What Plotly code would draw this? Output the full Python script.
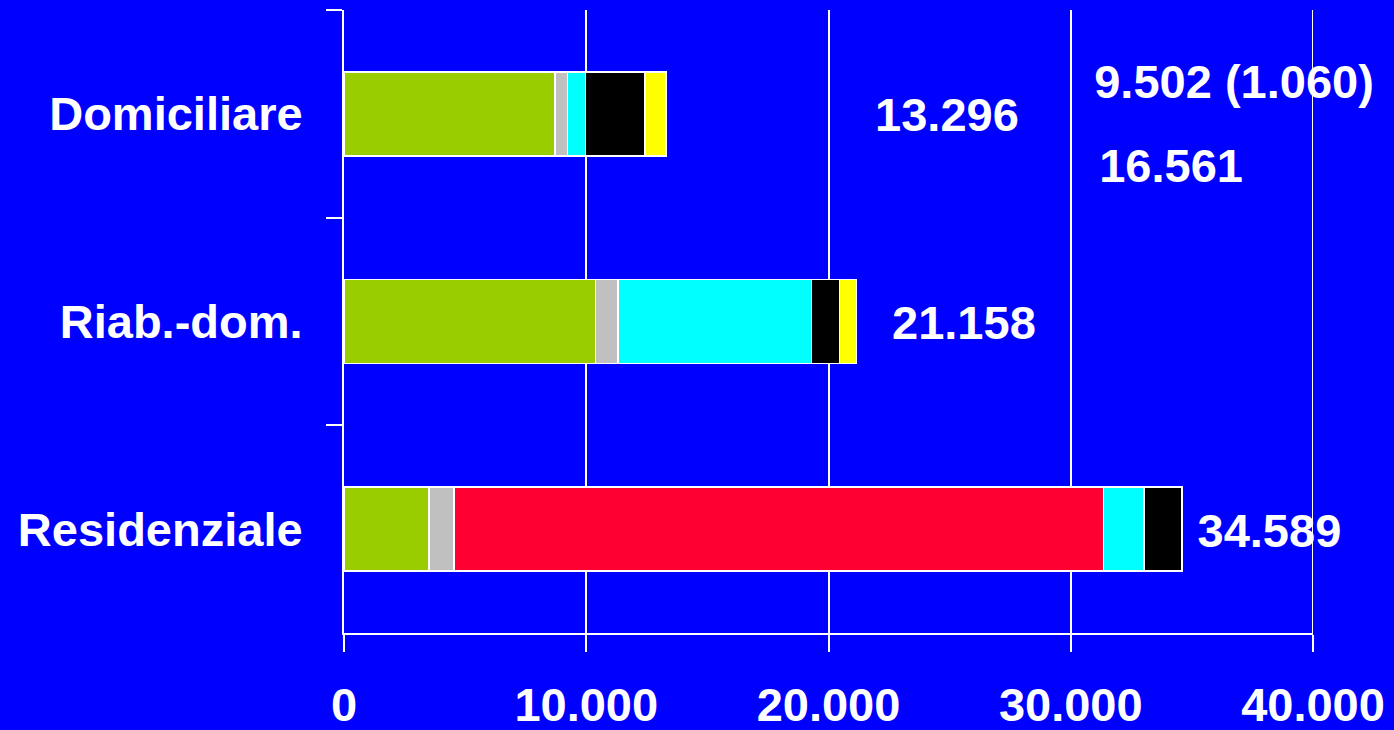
import plotly.graph_objects as go

# Categories, top to bottom
categories = ["Domiciliare", "Riab.-dom.", "Residenziale"]

# Stacked components (None = component absent for that category)
green_vals = [8720, 10375, 3506]
gray_vals = [515, 927, 1027]
red_vals = [None, None, 26820]
cyan_vals = [740, 7990, 1670]
black_vals = [2455, 1154, 1566]
yellow_vals = [866, 712, None]

# Totals printed beside each bar
total_labels = ["13.296", "21.158", "34.589"]
total_values = [13296, 21158, 34589]

# Extra notes printed in the upper-right area
note_texts = ["9.502 (1.060)", "16.561"]

x_ticks = [0, 10000, 20000, 30000, 40000]
x_tick_labels = ["0", "10.000", "20.000", "30.000", "40.000"]

series = [
    ("Voce 1", green_vals, "#9ACD00"),
    ("Voce 2", gray_vals, "#C0C0C0"),
    ("Voce 3", red_vals, "#FF0033"),
    ("Voce 4", cyan_vals, "#00FFFF"),
    ("Voce 5", black_vals, "#000000"),
    ("Voce 6", yellow_vals, "#FFFF00"),
]

FONT = "Liberation Sans, Arial, sans-serif"
BLUE = "#0000FF"
TXT = dict(family=FONT, size=47, color="white", weight="bold")

fig = go.Figure()
for name, vals, color in series:
    fig.add_trace(go.Bar(
        y=categories, x=vals, name=name, orientation="h",
        marker=dict(color=color, line=dict(color="white", width=1.5)),
        showlegend=False, hoverinfo="x+name",
    ))

# Text layer on a numeric overlay axis aligned with the category slots
# (slot i is centred at y = i, range reversed so the first category is on top)
total_x = [24890, 25590, 38200]
total_y = [i + 0.027 for i in range(len(categories))]
fig.add_trace(go.Scatter(
    x=total_x, y=total_y, text=total_labels, mode="text",
    textposition="middle center", textfont=TXT, yaxis="y2",
    showlegend=False, hoverinfo="skip", cliponaxis=False,
))

note_x = [36740, 34140]
note_y = [-0.133, 0.272]
fig.add_trace(go.Scatter(
    x=note_x, y=note_y, text=note_texts, mode="text",
    textposition="middle center", textfont=TXT, yaxis="y2",
    showlegend=False, hoverinfo="skip", cliponaxis=False,
))

# Closing gridline at the right end of the value axis, drawn over the text
fig.add_shape(
    type="line", xref="x", yref="paper",
    x0=x_ticks[-1], x1=x_ticks[-1], y0=0, y1=1,
    line=dict(color="white", width=2), layer="above",
)

fig.update_layout(
    width=1394, height=730,
    barmode="stack", bargap=0.596,
    paper_bgcolor=BLUE, plot_bgcolor=BLUE,
    margin=dict(l=344, r=81, t=10, b=97, pad=0, autoexpand=False),
    font=dict(family=FONT, color="white"),
    xaxis=dict(
        range=[0, 40000], tickvals=x_ticks, ticktext=x_tick_labels,
        showgrid=True, gridcolor="white", gridwidth=2,
        showline=True, linecolor="white", linewidth=2,
        ticks="outside", ticklen=17, tickwidth=2, tickcolor="white",
        zeroline=False, ticklabelstandoff=13, automargin=False,
        tickfont=TXT,
    ),
    yaxis=dict(
        categoryorder="array", categoryarray=categories,
        range=[2.5, -0.5], tickson="boundaries",
        showgrid=False, zeroline=False,
        showline=True, linecolor="white", linewidth=2,
        ticks="outside", ticklen=16, tickwidth=2, tickcolor="white",
        ticklabelstandoff=30, automargin=False,
        tickfont=TXT,
    ),
    yaxis2=dict(
        overlaying="y", range=[2.5, -0.5], visible=False,
        showgrid=False, zeroline=False,
    ),
)

fig.write_html("out.html")
